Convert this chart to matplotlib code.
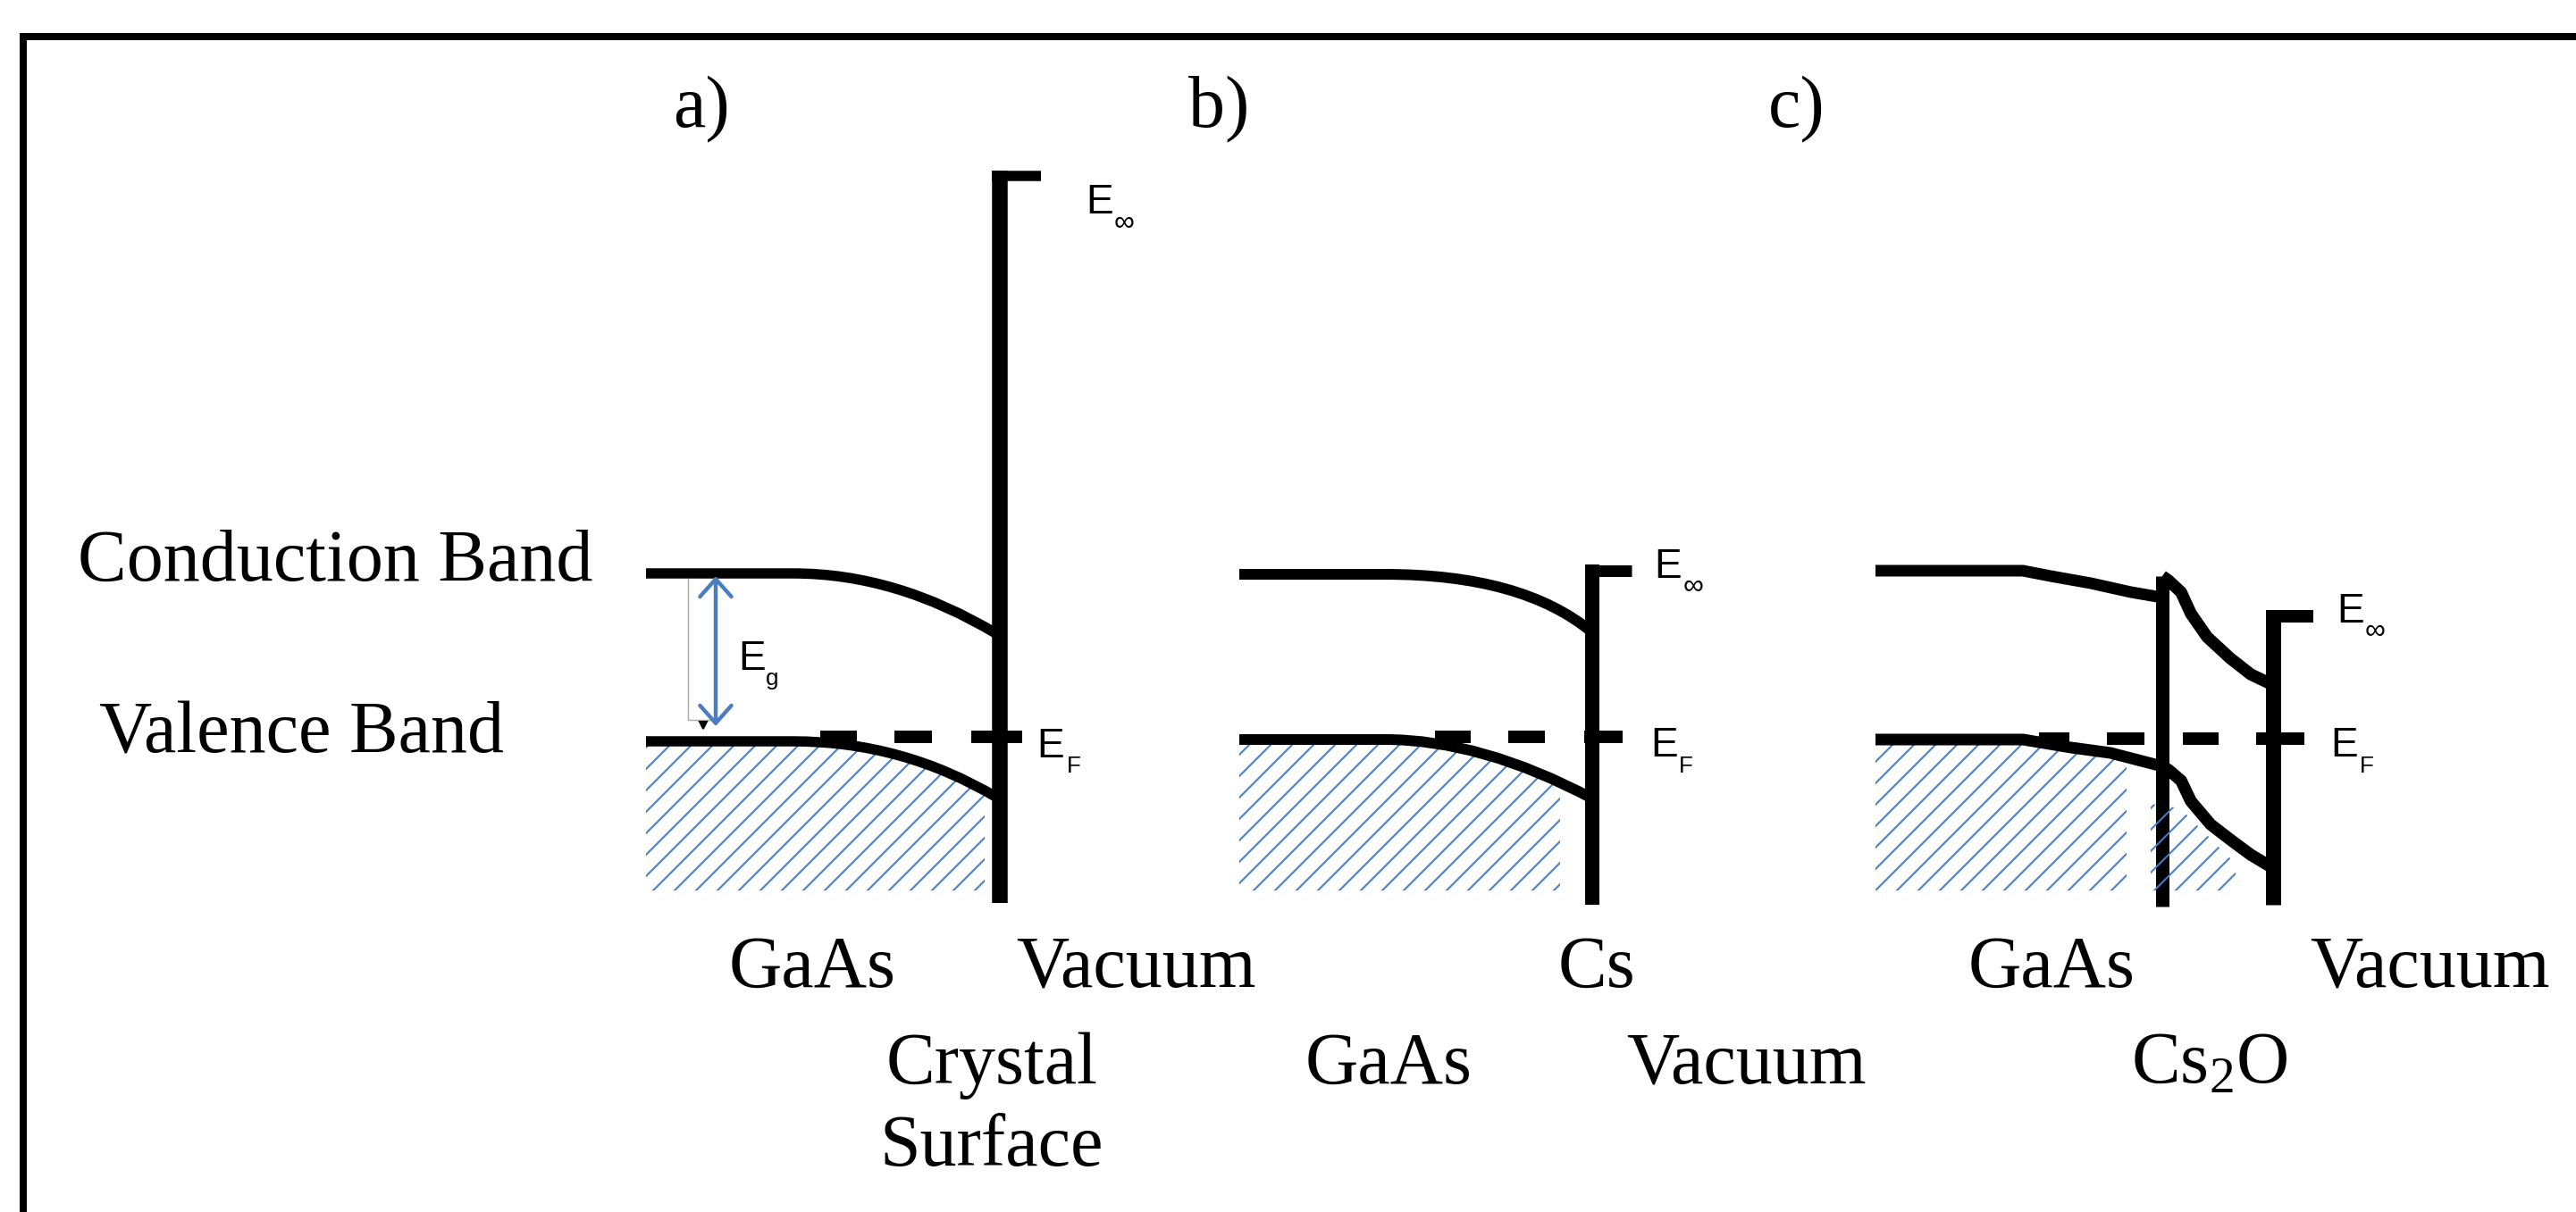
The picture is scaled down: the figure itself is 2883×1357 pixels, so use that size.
import matplotlib.pyplot as plt
from matplotlib.patches import Rectangle, PathPatch
from matplotlib.path import Path

W, H = 2883, 1357
DPI = 144
BLUE = '#4a7dbf'

plt.rcParams['hatch.color'] = BLUE
plt.rcParams['hatch.linewidth'] = 1.0
plt.rcParams['mathtext.default'] = 'regular'

# ---- data, in picture pixels (y goes down) ----
# bent bands of a) and b): flat start, end of flat part, bend control, end at the wall
# panel a) GaAs / vacuum
a_cb_x = [723, 888, 1003, 1116]
a_cb_y = [642, 642, 642, 710]
a_vb_x = [723, 888, 1010, 1116]
a_vb_y = [830, 830, 830, 893]
a_ef_x0 = [918, 1001, 1087]
a_ef_x1 = [959, 1043, 1144]
a_ef_y = 825
a_vac_x, a_vac_top, a_vac_bot, a_cap_end = 1119, 191, 1011, 1165
a_hatch = (723, 1102)

# panel b) GaAs / Cs / vacuum
b_cb_x = [1387, 1550, 1704, 1782]
b_cb_y = [643, 643, 643, 708]
b_vb_x = [1387, 1550, 1658, 1782]
b_vb_y = [828, 828, 828, 894]
b_ef_x0 = [1606, 1688, 1773]
b_ef_x1 = [1646, 1729, 1816]
b_ef_y = 825
b_vac_x, b_vac_top, b_vac_bot, b_cap_end = 1782, 632, 1013, 1826
b_hatch = (1369, 1746)

# panel c) GaAs / Cs2O / vacuum
c_cb_x = [2099, 2264, 2295, 2340, 2385, 2420]
c_cb_y = [639, 639, 645, 653, 663, 669]
c_up_x = [2420, 2427, 2441, 2452, 2470, 2496, 2519, 2544]
c_up_y = [645, 650, 663, 687, 713, 737, 755, 767]
c_vb_x = [2099, 2264, 2318, 2362, 2420]
c_vb_y = [828, 828, 837, 843, 858]
c_lo_x = [2420, 2427, 2441, 2452, 2474, 2496, 2519, 2544]
c_lo_y = [858, 862, 874, 897, 923, 940, 957, 972]
c_ef_x0 = [2282, 2358, 2443, 2525]
c_ef_x1 = [2316, 2400, 2483, 2579]
c_ef_y = 827
c_oxide_x, c_oxide_top, c_oxide_bot = 2420, 645, 1015
c_vac_x, c_vac_top, c_vac_bot, c_cap_end = 2544, 683, 1013, 2589
c_hatch = (2083, 2380)
c_hatch2_x = [2407, 2440, 2470, 2500, 2505, 2407]
c_hatch2_y = [900, 905, 935, 965, 997, 997]
hatch_bottom = 997

# E_g arrow
eg_x, eg_top, eg_bot = 801, 645, 813

fig = plt.figure(figsize=(W / DPI, H / DPI), dpi=DPI)
ax = fig.add_axes([0, 0, 1, 1])
ax.set_xlim(0, W)
ax.set_ylim(H, 0)
ax.axis('off')

# frame (only top and left visible)
ax.plot([26, 26, W], [H, 41, 41], color='black', lw=4, solid_joinstyle='miter')


def bent_path(x, y):
    codes = [Path.MOVETO, Path.LINETO, Path.CURVE3, Path.CURVE3]
    return Path(list(zip(x, y)), codes)


def hatch_region(path, left, right):
    verts = list(path.vertices) + [(path.vertices[-1][0], hatch_bottom),
                                   (path.vertices[0][0], hatch_bottom),
                                   (path.vertices[0][0], path.vertices[0][1])]
    codes = list(path.codes) + [Path.LINETO, Path.LINETO, Path.CLOSEPOLY]
    p = PathPatch(Path(verts, codes), facecolor='none', edgecolor=BLUE,
                  linewidth=0, hatch='//', zorder=1)
    ax.add_patch(p)
    p.set_clip_path(Rectangle((left, 0), right - left, hatch_bottom,
                              transform=ax.transData))


def hatch_under(vx, vy, left, right):
    coll = ax.fill_between(vx, vy, hatch_bottom, facecolor='none', edgecolor=BLUE,
                           linewidth=0, hatch='//', zorder=1)
    coll.set_clip_path(Rectangle((left, 0), right - left, hatch_bottom,
                                 transform=ax.transData))


def curve(path, lw):
    ax.add_patch(PathPatch(path, facecolor='none', edgecolor='black', lw=lw,
                           capstyle='butt', joinstyle='round', zorder=2))


def band(x, y, lw):
    ax.plot(x, y, color='black', lw=lw, solid_capstyle='butt',
            solid_joinstyle='round', zorder=2)


def wall(x, top, bot, cap_end, lw, cap_lw):
    ax.plot([x, x], [top, bot], color='black', lw=lw, solid_capstyle='butt', zorder=2)
    if cap_end is not None:
        half = lw  # wall half-width in pixels (lw points = lw*2 px)
        ax.plot([x - half, cap_end], [top + cap_lw, top + cap_lw], color='black',
                lw=cap_lw, solid_capstyle='butt', zorder=2)


def fermi(x0, x1, y):
    ax.hlines([y] * len(x0), x0, x1, colors='black', lw=7, zorder=3)


# panel a
a_vb = bent_path(a_vb_x, a_vb_y)
hatch_region(a_vb, *a_hatch)
curve(bent_path(a_cb_x, a_cb_y), 5.75)
curve(a_vb, 5.75)
wall(a_vac_x, a_vac_top, a_vac_bot, a_cap_end, 8.75, 5.75)
fermi(a_ef_x0, a_ef_x1, a_ef_y)

# panel b
b_vb = bent_path(b_vb_x, b_vb_y)
hatch_region(b_vb, *b_hatch)
curve(bent_path(b_cb_x, b_cb_y), 6)
curve(b_vb, 6)
wall(b_vac_x, b_vac_top, b_vac_bot, b_cap_end, 8, 6.5)
fermi(b_ef_x0, b_ef_x1, b_ef_y)

# panel c
hatch_under(c_vb_x, c_vb_y, *c_hatch)
ax.fill(c_hatch2_x, c_hatch2_y, facecolor='none', edgecolor=BLUE, linewidth=0,
        hatch='//', zorder=4)
band(c_cb_x, c_cb_y, 6.5)
band(c_vb_x, c_vb_y, 6.5)
band(c_up_x, c_up_y, 6.75)
band(c_lo_x, c_lo_y, 6.75)
wall(c_oxide_x, c_oxide_top, c_oxide_bot, None, 7.5, 0)
wall(c_vac_x, c_vac_top, c_vac_bot, c_cap_end, 8.5, 7)
fermi(c_ef_x0, c_ef_x1, c_ef_y)

# band gap arrow with the little grey box and marker
ax.plot([770, 770, 800], [648, 806, 806], color='#a6a6a6', lw=0.7, zorder=2)
ax.plot(787, 812, marker='v', color='black', ms=4, zorder=3)
ax.annotate('', xy=(eg_x, eg_top), xytext=(eg_x, eg_bot),
            arrowprops=dict(arrowstyle='<->,head_length=0.45,head_width=0.4',
                            color=BLUE, lw=2.2, shrinkA=0, shrinkB=0,
                            mutation_scale=22), zorder=3)

# energy labels (sans)
sans = 'Liberation Sans'
def elabel(x, y, main, sub, sx, sy, subsize=13):
    ax.text(x, y, main, fontsize=23, family=sans, va='baseline', ha='left')
    ax.text(sx, sy, sub, fontsize=subsize, family=[sans, 'DejaVu Sans'],
            va='baseline', ha='left')

elabel(1215, 239, 'E', '\u221e', 1247, 258, 16)
elabel(1160, 848, 'E', 'F', 1194, 865)
elabel(826, 750, 'E', 'g', 857, 767)
elabel(1851, 647, 'E', '\u221e', 1884, 665, 16)
elabel(1847, 847, 'E', 'F', 1879, 865)
elabel(2615, 697, 'E', '\u221e', 2647, 715, 16)
elabel(2608, 847, 'E', 'F', 2641, 865)

# serif labels
serif = 'Liberation Serif'
labels = [
    ('a)', 785, 142), ('b)', 1364, 142), ('c)', 2011, 142),
    ('Conduction Band', 375, 650), ('Valence Band', 338, 843),
    ('GaAs', 909, 1105), ('Vacuum', 1271, 1105),
    ('Crystal', 1110, 1213), ('Surface', 1110, 1305),
    ('Cs', 1787, 1105), ('GaAs', 1554, 1213), ('Vacuum', 1954, 1213),
    ('GaAs', 2296, 1105), ('Vacuum', 2719, 1105), ('Cs$_2$O', 2473, 1213),
]
for txt, x, y in labels:
    ax.text(x, y, txt, fontsize=41, family=serif, ha='center', va='baseline')

fig.savefig('out.png', dpi=DPI, facecolor='white')
